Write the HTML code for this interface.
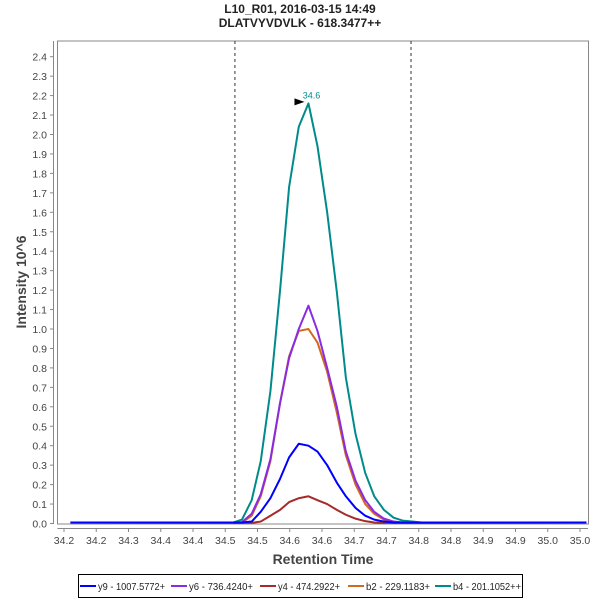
<!DOCTYPE html>
<html><head><meta charset="utf-8"><style>
body{margin:0;background:#fff;font-family:"Liberation Sans",sans-serif}
svg text{font-family:"Liberation Sans",sans-serif}
</style></head><body>
<svg id="chart" width="600" height="600">
<rect width="600" height="600" fill="#fff"/>
<text x="300" y="13" text-anchor="middle" font-size="12" font-weight="bold" fill="#222">L10_R01, 2016-03-15 14:49</text>
<text x="300" y="27" text-anchor="middle" font-size="12" font-weight="bold" fill="#222">DLATVYVDVLK - 618.3477++</text>
<rect x="57.5" y="41" width="531" height="483" fill="none" stroke="#888"/>
<g id="axes"></g>
<g id="series"></g>
<text transform="translate(26,282) rotate(-90)" text-anchor="middle" font-size="14" font-weight="bold" fill="#444">Intensity 10^6</text>
<text x="323" y="564" text-anchor="middle" font-size="14" font-weight="bold" fill="#444">Retention Time</text>
<g>
<rect x="78.5" y="574.5" width="444" height="23" fill="#fff" stroke="#000"/>
<g id="legend"></g>
</g>
</svg>
<script>
const xTickLabels=["34.2","34.2","34.3","34.4","34.4","34.5","34.5","34.6","34.6","34.7","34.7","34.8","34.8","34.9","34.9","35.0","35.0"];
const yTickValues=[0,0.1,0.2,0.3,0.4,0.5,0.6,0.7,0.8,0.9,1.0,1.1,1.2,1.3,1.4,1.5,1.6,1.7,1.8,1.9,2.0,2.1,2.2,2.3,2.4];
const times=[34.21,34.462,34.476,34.491,34.505,34.520,34.535,34.549,34.564,34.579,34.593,34.608,34.623,34.637,34.652,34.667,34.681,34.696,34.711,34.725,34.740,34.754,35.01];
const y9=[0.005,0.005,0.005,0.01,0.06,0.13,0.23,0.34,0.41,0.40,0.37,0.30,0.21,0.14,0.08,0.04,0.02,0.01,0.005,0.005,0.005,0.005,0.005];
const y6=[0.005,0.005,0.007,0.05,0.15,0.33,0.62,0.85,1.0,1.12,0.99,0.80,0.60,0.37,0.22,0.12,0.06,0.025,0.01,0.005,0.005,0.005,0.005];
const y4=[0.005,0.004,0.003,0.003,0.01,0.04,0.07,0.11,0.13,0.14,0.12,0.10,0.07,0.045,0.025,0.012,0.005,0.003,0.003,0.003,0.003,0.003,0.005];
const b2=[0.005,0.005,0.005,0.04,0.14,0.32,0.62,0.86,0.99,1.0,0.93,0.78,0.57,0.35,0.20,0.10,0.05,0.02,0.008,0.005,0.005,0.005,0.005];
const b4=[0.005,0.005,0.02,0.12,0.32,0.68,1.20,1.73,2.04,2.16,1.94,1.60,1.19,0.75,0.46,0.26,0.14,0.07,0.03,0.015,0.01,0.005,0.005];
const seriesNames=["y9 - 1007.5772+","y6 - 736.4240+","y4 - 474.2922+","b2 - 229.1183+","b4 - 201.1052++"];
const seriesColors=["#0000ff","#8a2be2","#a52a2a","#d2691e","#008b8b"];
const boundaries=[34.465,34.738];
const peakTime=34.579, peakValue=2.16, peakLabel="34.6";

const NS="http://www.w3.org/2000/svg";
const X=t=>64+(t-34.2)*645;
const Y=v=>523.5-v*194.5;
function mk(tag,attrs,parent){const e=document.createElementNS(NS,tag);for(const k in attrs)e.setAttribute(k,attrs[k]);parent.appendChild(e);return e;}
const axes=document.getElementById('axes');
mk('line',{x1:53.5,y1:41,x2:53.5,y2:524,stroke:'#888'},axes);
mk('line',{x1:57.5,y1:528.5,x2:588,y2:528.5,stroke:'#888'},axes);
yTickValues.forEach(v=>{
  const y=Y(v);
  mk('line',{x1:50,x2:53.5,y1:y,y2:y,stroke:'#888'},axes);
  const t=mk('text',{x:47,y:y+4,'text-anchor':'end','font-size':10.5,fill:'#444'},axes);
  t.textContent=v.toFixed(1);
  
  
});
xTickLabels.forEach((l,i)=>{
  const x=X(34.2+i*0.05);
  mk('line',{x1:x,x2:x,y1:528.5,y2:532,stroke:'#888'},axes);
  const t=mk('text',{x:x,y:544,'text-anchor':'middle','font-size':10.5,fill:'#444'},axes);
  t.textContent=l;
  
  
});
boundaries.forEach(b=>{
  const l=mk('line',{x1:X(b),x2:X(b),y1:41,y2:524,stroke:'#333','stroke-dasharray':'3,3'},axes);
  
  
});
const sg=document.getElementById('series');
[b4,b2,y4,y6,y9].forEach((d,k)=>{
  const idx=[4,3,2,1,0][k];
  const p=mk('polyline',{points:times.map((t,i)=>X(t)+','+Y(d[i])).join(' '),fill:'none',stroke:seriesColors[idx],'stroke-width':2,'stroke-linejoin':'round'},sg);
  
  
});
const px=X(peakTime),py=Y(peakValue);
const tri=mk('polygon',{points:`${px-14},${py-5} ${px-14},${py+2} ${px-4},${py-1.5}`,fill:'#000'},sg);


const pl=mk('text',{x:px+3,y:py-5,'text-anchor':'middle','font-size':9,fill:'#008b8b'},sg);
pl.textContent=peakLabel;


const lg=document.getElementById('legend');
const lx=[80,171,260,348,435];
const tw=[67,64,62,64,68];
seriesNames.forEach((n,i)=>{
  const g=mk('g',{},lg);
  
  
  mk('line',{x1:lx[i],x2:lx[i]+16,y1:586,y2:586,stroke:seriesColors[i],'stroke-width':2},g);
  const t=mk('text',{x:lx[i]+18,y:590,'font-size':10.5,fill:'#222',textLength:tw[i],lengthAdjust:'spacingAndGlyphs'},g);
  t.textContent=n;
});
</script>
</body></html>
